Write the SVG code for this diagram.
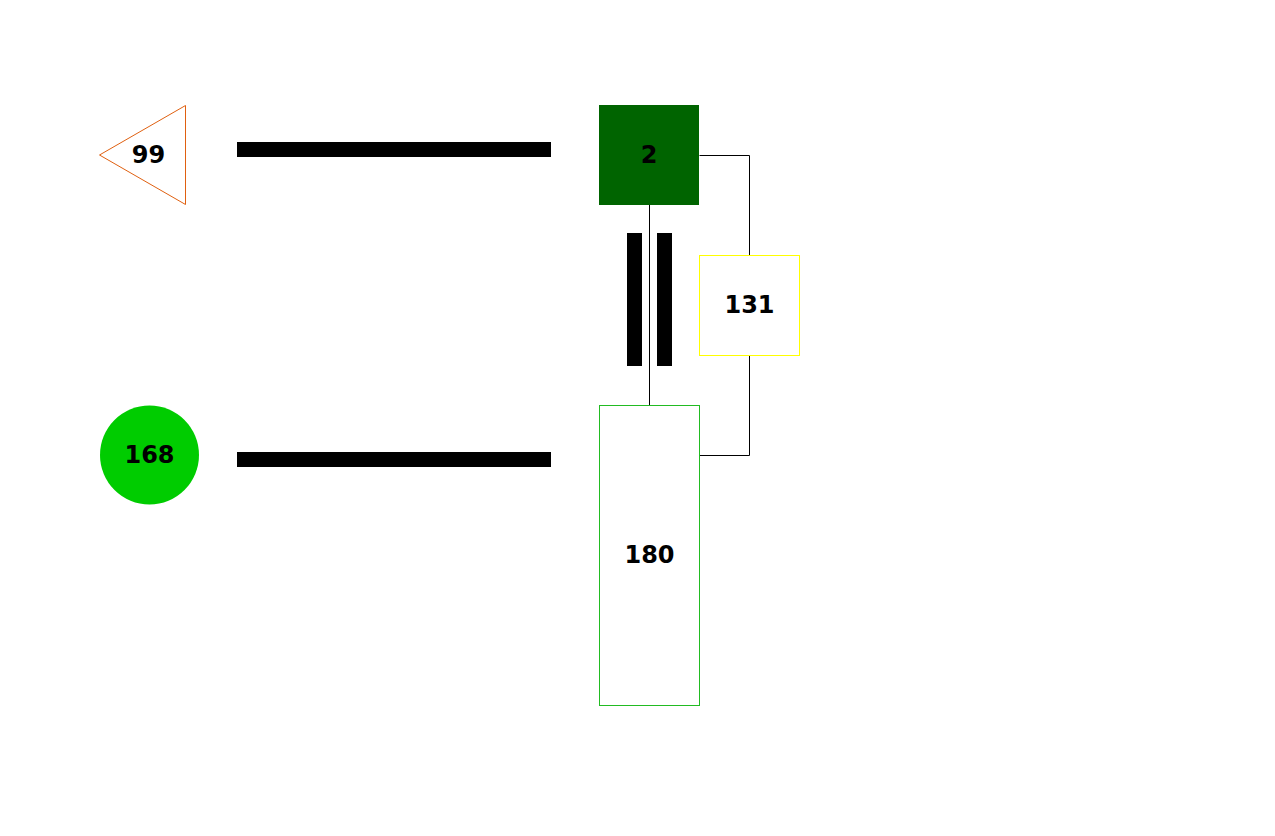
<svg xmlns="http://www.w3.org/2000/svg" width="1275" height="836" viewBox="0 0 1275 836">
<style>
.lbl{font-family:"DejaVu Sans",sans-serif;font-weight:bold;font-size:24px;fill:#000;text-anchor:middle}
.wire{fill:none;stroke:#000;stroke-width:1}
.bar{fill:#000}
</style>
<rect width="1275" height="836" fill="#fff"/>
<g id="connectors">
<path class="wire" d="M699.5,155.5H749.5V255"/>
<path class="wire" d="M749.5,355V455.5H699"/>
<path class="wire" d="M649.5,205V405"/>
<rect class="bar" x="237" y="142" width="314" height="15"/>
<rect class="bar" x="237" y="452" width="314" height="15"/>
<rect class="bar" x="627" y="233" width="15" height="133"/>
<rect class="bar" x="657" y="233" width="15" height="133"/>
</g>
<g id="node-99">
<polygon points="99.5,155 185.5,105.5 185.5,204.5" fill="#fff" stroke="#e06010" stroke-width="1"/>
<text class="lbl" x="148.5" y="162.5">99</text>
</g>
<g id="node-2">
<rect x="599" y="105" width="100" height="100" fill="#006400"/>
<text class="lbl" x="649" y="162.5">2</text>
</g>
<g id="node-131">
<rect x="699.5" y="255.5" width="100" height="100" fill="#fff" stroke="#ffff00" stroke-width="1"/>
<text class="lbl" x="749.5" y="312.5">131</text>
</g>
<g id="node-168">
<circle cx="149.5" cy="455" r="49.5" fill="#00cc00"/>
<text class="lbl" x="149.5" y="462.5">168</text>
</g>
<g id="node-180">
<rect x="599.5" y="405.5" width="100" height="300" fill="#fff" stroke="#22bb22" stroke-width="1"/>
<text class="lbl" x="649.5" y="562.5">180</text>
</g>
</svg>
